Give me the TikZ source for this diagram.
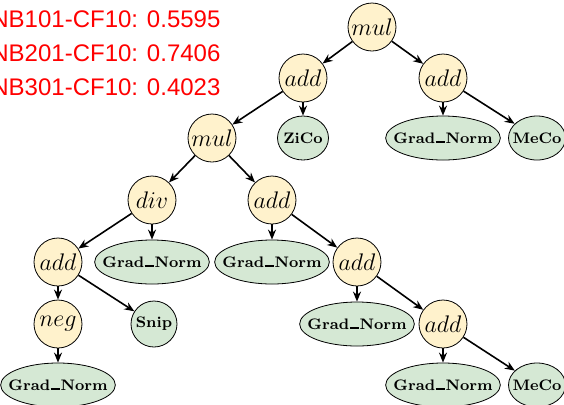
\documentclass[tikz,border=0pt]{standalone}
\usepackage{fontspec}
\usepackage{tikz}
\usetikzlibrary{positioning,arrows.meta,shapes.geometric}
\newfontfamily\scorefont{Liberation Sans}
\definecolor{opyellow}{RGB}{255,242,204}
\definecolor{leafgreen}{RGB}{213,232,212}
\definecolor{scorered}{RGB}{255,0,0}
% bold underscore drawn as a short rule
\newcommand{\usc}{\kern.04em\rule{0.6em}{0.9pt}\kern.04em}

\begin{document}
\begin{tikzpicture}[
  on grid,
  op/.style={circle, draw, fill=opyellow, minimum size=24pt,
             inner sep=0pt, font=\fontsize{13}{15}\selectfont},
  leaf/.style={ellipse, draw, fill=leafgreen, minimum height=22pt,
               minimum width=25.5pt, inner xsep=-4.5pt, inner ysep=0pt,
               font=\fontsize{7.6}{9}\selectfont\bfseries},
  arr/.style={-{Stealth[length=5pt,width=4pt]}, thick},
  score/.style={text=scorered, align=left, inner sep=0pt,
                font=\fontsize{12}{17}\selectfont\scorefont}
]
\useasboundingbox (0,0) rectangle (282pt,-202pt);
\clip (0,0) rectangle (282pt,-202pt);

\node[score, anchor=north west] (scores) at (-4.5pt,-5pt)
  {NB101-CF10: 0.5595\\NB201-CF10: 0.7406\\NB301-CF10: 0.4023};

\node[op] (root) at (186pt,-13.5pt) {$mul$};
\node[op, below left=25.5pt and 34.5pt of root]  (addA) {$add$};
\node[op, below right=25.5pt and 35.5pt of root] (addB) {$add$};
\node[leaf, below=30pt of addA]                  (zico) {ZiCo};
\node[op, below left=30pt and 45.5pt of addA]    (mulB) {$mul$};
\node[leaf, below=30pt of addB]                  (gnA)  {Grad\usc Norm};
\node[leaf, minimum width=28.5pt,
      below right=30pt and 47pt of addB]         (mecoA) {MeCo};
\node[op, below left=31pt and 30pt of mulB]      (div)  {$div$};
\node[op, below right=31pt and 30pt of mulB]     (addC) {$add$};
\node[op, below left=31pt and 47pt of div]       (addD) {$add$};
\node[leaf, below=31pt of div]                   (gnB)  {Grad\usc Norm};
\node[leaf, below=31pt of addC]                  (gnC)  {Grad\usc Norm};
\node[op, below right=31pt and 42.5pt of addC]   (addE) {$add$};
\node[op, below=31pt of addD]                    (neg)  {$neg$};
\node[leaf, minimum height=23pt, minimum width=23pt,
      below right=31pt and 48pt of addD]         (snip) {Snip};
\node[leaf, below=31pt of addE]                  (gnD)  {Grad\usc Norm};
\node[op, below right=31pt and 43pt of addE]     (addF) {$add$};
\node[leaf, below=30.5pt of neg]                 (gnE)  {Grad\usc Norm};
\node[leaf, below=30.5pt of addF]                (gnF)  {Grad\usc Norm};
\node[leaf, minimum width=28.5pt,
      below right=30.5pt and 47pt of addF]       (mecoB) {MeCo};

\draw[arr] (root)--(addA);  \draw[arr] (root)--(addB);
\draw[arr] (addA)--(mulB);  \draw[arr] (addA)--(zico);
\draw[arr] (addB)--(gnA);   \draw[arr] (addB)--(mecoA);
\draw[arr] (mulB)--(div);   \draw[arr] (mulB)--(addC);
\draw[arr] (div)--(addD);   \draw[arr] (div)--(gnB);
\draw[arr] (addC)--(gnC);   \draw[arr] (addC)--(addE);
\draw[arr] (addD)--(neg);   \draw[arr] (addD)--(snip);
\draw[arr] (addE)--(gnD);   \draw[arr] (addE)--(addF);
\draw[arr] (neg)--(gnE);
\draw[arr] (addF)--(gnF);   \draw[arr] (addF)--(mecoB);
\end{tikzpicture}
\end{document}
